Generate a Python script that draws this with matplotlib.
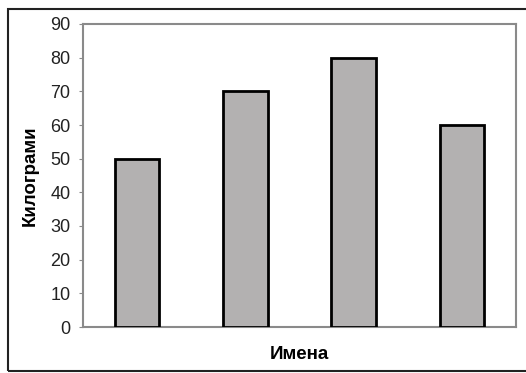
import matplotlib
matplotlib.use("Agg")
import matplotlib.pyplot as plt
from matplotlib.patches import Rectangle

values = [50, 70, 80, 60]
yticks = [0, 10, 20, 30, 40, 50, 60, 70, 80, 90]

plt.rcParams['font.family'] = ['Liberation Sans', 'DejaVu Sans']

fig = plt.figure(figsize=(5.26, 3.73), dpi=100)
fig.patch.set_facecolor('white')
# outer frame (right side runs off the page)
fig.add_artist(Rectangle((8/526, 2/373), 530/526, (373-9-2)/373, transform=fig.transFigure,
                         fill=False, edgecolor='#222222', linewidth=1.5))

ax = fig.add_axes([83/526, 1-327/373, (516-83)/526, (327-24)/373])
x = list(range(len(values)))
ax.bar(x, values, width=0.41, color='#b3b1b1', edgecolor='black', linewidth=2, zorder=3)
ax.set_xlim(-0.5, 3.5)
ax.set_ylim(0, 90)
ax.set_yticks(yticks)
ax.set_yticklabels([str(t) for t in yticks], fontsize=13, color='#222222')
ax.set_xticks([])
for s in ax.spines.values():
    s.set_color('#8a8a8a')
    s.set_linewidth(1.5)
ax.tick_params(axis='y', length=3, color='#8a8a8a', pad=6)
ax.set_ylabel("Килограми", fontsize=13.5, fontweight='bold', labelpad=8)
ax.set_xlabel("Имена", fontsize=13.5, fontweight='bold', labelpad=14)

fig.savefig("out.png", dpi=100)
